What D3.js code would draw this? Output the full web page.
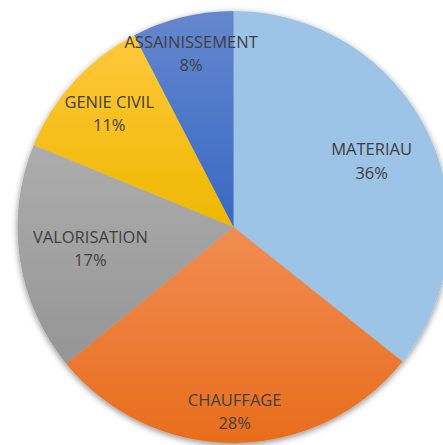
<!DOCTYPE html>
<html lang="fr">
<head>
  <meta charset="UTF-8">
  <title>Répartition</title>
  <style>
    body { margin: 0; background: #fff; }
    svg { display: block; }
  </style>
</head>
<body>

  <svg id="svg" width="443" height="445"></svg>

  <script src="https://d3js.org/d3.v7.min.js"></script>
  <script>

    // data (percent of total)
    const categories = ['MATERIAU', 'CHAUFFAGE', 'VALORISATION', 'GENIE CIVIL', 'ASSAINISSEMENT']
    const values = [35.7, 28.4, 17.1, 11.2, 7.6]
    const percentLabels = ['36%', '28%', '17%', '11%', '8%']

    // gradient colours, top -> bottom
    const topColors = ['#9dc3e6', '#f18d52', '#adadad', '#ffc83c', '#6587cf']
    const bottomColors = ['#9dc3e6', '#e86d1c', '#959595', '#eeb800', '#3868c3']
    // label distance as fraction of radius (Excel "best fit")
    const labelFrac = [0.71, 0.85, 0.67, 0.78, 0.83]

    const cx = 233.5, cy = 227, r = 216

    const svg = d3.select('#svg')
    const defs = svg.append('defs')

    const shadow = defs.append('filter')
      .attr('id', 'shadow')
      .attr('x', '-10%').attr('y', '-10%')
      .attr('width', '120%').attr('height', '120%')
    shadow.append('feDropShadow')
      .attr('dx', 0).attr('dy', 2)
      .attr('stdDeviation', 3)
      .attr('flood-color', '#000')
      .attr('flood-opacity', 0.45)

    categories.forEach((c, i) => {
      const g = defs.append('linearGradient')
        .attr('id', 'grad' + i)
        .attr('x1', 0).attr('y1', 0).attr('x2', 0).attr('y2', 1)
      g.append('stop').attr('offset', '0%').attr('stop-color', topColors[i])
      g.append('stop').attr('offset', '100%').attr('stop-color', bottomColors[i])
    })

    const pie = d3.pie().sort(null).value(d => d)
    const arcs = pie(values)
    const arc = d3.arc().innerRadius(0).outerRadius(r)

    const chart = svg.append('g')
      .attr('transform', `translate(${cx},${cy})`)

    chart.append('g')
      .attr('filter', 'url(#shadow)')
      .selectAll('path')
      .data(arcs)
      .enter()
      .append('path')
      .attr('d', arc)
      .attr('fill', (d, i) => `url(#grad${i})`)

    const labels = chart.selectAll('text.lbl')
      .data(arcs)
      .enter()
      .append('text')
      .attr('class', 'lbl')
      .attr('transform', (d, i) => {
        const rr = r * labelFrac[i]
        const a = (d.startAngle + d.endAngle) / 2
        return `translate(${Math.sin(a) * rr},${-Math.cos(a) * rr})`
      })
      .attr('text-anchor', 'middle')
      .style('font-family', '"Open Sans", sans-serif')
      .style('font-size', '16.5px')
      .style('fill', '#404040')

    labels.append('tspan')
      .attr('x', 0).attr('dy', '-0.3em')
      .text((d, i) => categories[i])
    labels.append('tspan')
      .attr('x', 0).attr('dy', '1.4em')
      .text((d, i) => percentLabels[i])

  </script>
</body>
</html>
